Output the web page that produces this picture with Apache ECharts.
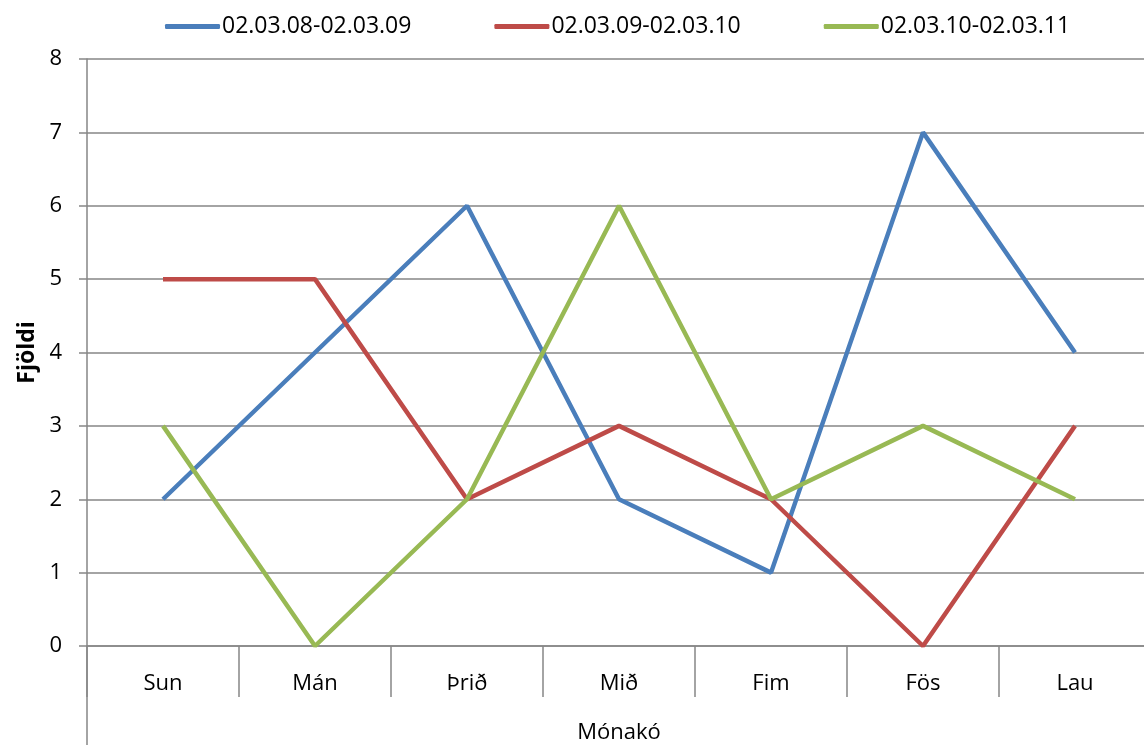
<!DOCTYPE html>
<html><head><meta charset="utf-8">
<script src="https://cdn.jsdelivr.net/npm/echarts@6/dist/echarts.min.js"></script>
<style>html,body{margin:0;padding:0;background:#fff;overflow:hidden}
#c{width:1144px;height:745px}</style>
</head><body><div id="c"></div>
<script>
var categories = ['Sun', 'Mán', 'Þrið', 'Mið', 'Fim', 'Fös', 'Lau'];
var seriesNames = ['02.03.08-02.03.09', '02.03.09-02.03.10', '02.03.10-02.03.11'];
var s1 = [2, 4, 6, 2, 1, 7, 4];
var s2 = [5, 5, 2, 3, 2, 0, 3];
var s3 = [3, 0, 2, 6, 2, 3, 2];
var yTicks = [0, 1, 2, 3, 4, 5, 6, 7, 8];
var xTitle = 'Mónakó';
var yTitle = 'Fjöldi';

var colors = ['#4A7EBB', '#BE4B48', '#98B954'];
var font = 'Open Sans';
var chart = echarts.init(document.getElementById('c'));
function mk(name, data, i) {
  return {name: name, type: 'line', data: data, symbol: 'none', showSymbol: false,
    lineStyle: {width: 4.5, color: colors[i]}, itemStyle: {color: colors[i]}, animation: false};
}
chart.setOption({
  animation: false,
  textStyle: {fontFamily: font, color: '#000'},
  legend: {
    top: 10, left: 160, itemWidth: 55, itemHeight: 5, itemGap: 83,
    icon: 'roundRect',
    textStyle: {fontFamily: font, fontSize: 23, color: '#000', padding: [0, 0, 0, -3]},
    data: seriesNames
  },
  grid: {left: 87, top: 59, width: 1064, height: 587, containLabel: false, outerBoundsMode: 'none'},
  xAxis: {
    type: 'category', data: categories, boundaryGap: true,
    axisLine: {show: true, lineStyle: {color: '#868686', width: 1.5}},
    axisTick: {show: true, interval: 0, alignWithLabel: false, length: 51, lineStyle: {color: '#868686', width: 1.5}},
    axisLabel: {fontSize: 22, color: '#000', margin: 27, fontFamily: font},
    name: xTitle, nameLocation: 'middle', nameGap: 76,
    nameTextStyle: {fontSize: 22, color: '#000', fontFamily: font}
  },
  yAxis: {
    type: 'value', min: yTicks[0], max: yTicks[yTicks.length - 1], interval: 1,
    axisLine: {show: true, lineStyle: {color: '#868686', width: 1.5}},
    axisTick: {show: true, length: 8, lineStyle: {color: '#868686', width: 1.5}},
    splitLine: {lineStyle: {color: '#868686', width: 1.5}},
    axisLabel: {fontSize: 22, color: '#000', margin: 25, fontFamily: font},
    name: yTitle, nameLocation: 'middle', nameGap: 46,
    nameTextStyle: {fontSize: 23, fontWeight: 'bold', color: '#000', fontFamily: font}
  },
  graphic: [{type: 'line', shape: {x1: 87, y1: 646, x2: 87, y2: 745},
    style: {stroke: '#868686', lineWidth: 1.5}}],
  series: [mk(seriesNames[0], s1, 0), mk(seriesNames[1], s2, 1), mk(seriesNames[2], s3, 2)]
});
</script></body></html>
